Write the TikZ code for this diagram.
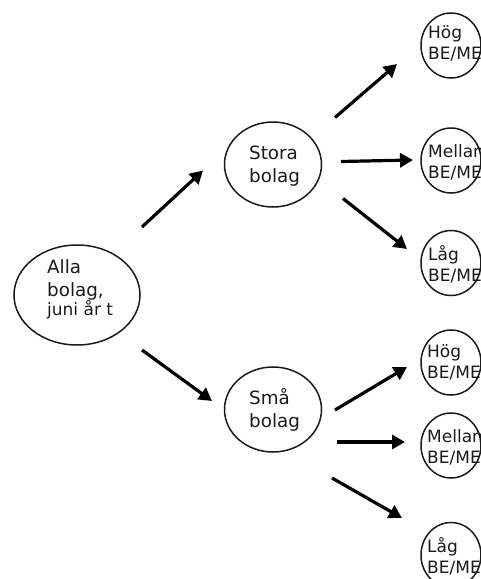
\documentclass[tikz,border=0pt]{standalone}
\usepackage{fontspec}
\setmainfont{DejaVu Sans}
\usetikzlibrary{shapes.geometric,arrows.meta}
\definecolor{ink}{HTML}{1A1A1A}
\tikzset{
  ell/.style={ellipse, draw=ink, line width=1.5pt, inner sep=0pt, outer sep=0pt},
  bigtxt/.style={inner sep=0pt, anchor=west, align=left, text=ink, font=\fontsize{18.3}{23}\selectfont},
  smalltxt/.style={inner sep=0pt, anchor=west, align=left, text=ink, font=\fontsize{17}{21}\selectfont},
  arr/.style={line width=3.2pt, -{Triangle[length=13pt,width=14pt]}}
}
\begin{document}
\begin{tikzpicture}[x=1pt,y=-1pt]
\useasboundingbox (0,0) rectangle (481,579);
% circles
\node[ell, minimum width=126pt, minimum height=100pt] (alla) at (77,295) {};
\node[ell, minimum width=97pt, minimum height=85pt] (stora) at (273,164.5) {};
\node[ell, minimum width=97pt, minimum height=85pt] (sma) at (273,409.5) {};
\node[ell, minimum width=60pt, minimum height=65pt] (hog1) at (451,45.5) {};
\node[ell, minimum width=60pt, minimum height=65pt] (mel1) at (451,160.5) {};
\node[ell, minimum width=60pt, minimum height=65pt] (lag1) at (451,263) {};
\node[ell, minimum width=60pt, minimum height=65pt] (hog2) at (451,362.5) {};
\node[ell, minimum width=60pt, minimum height=65pt] (mel2) at (451,445.5) {};
\node[ell, minimum width=60pt, minimum height=65pt] (lag2) at (451,555) {};
% texts
\node[bigtxt] (allat) at (47,289) {Alla\\bolag,\\[-4pt]{\fontsize{17}{19}\selectfont juni år t}};
\node[bigtxt] (storat) at (249,166.5) {Stora\\bolag};
\node[bigtxt] (smat) at (249,410) {Små\\bolag};
\node[smalltxt] (hog1t) at (428,43) {Hög\\BE/ME};
\node[smalltxt] (mel1t) at (428,162) {Mellan\\BE/ME};
\node[smalltxt] (lag1t) at (428,264) {Låg\\BE/ME};
\node[smalltxt] (hog2t) at (427,362) {Hög\\BE/ME};
\node[smalltxt] (mel2t) at (427,447) {Mellan\\BE/ME};
\node[smalltxt] (lag2t) at (427,556) {Låg\\BE/ME};
% arrows
\draw[arr] ([shift={(65,-68)}]alla.center) -- ([shift={(-70,6)}]stora.center);
\draw[arr] ([shift={(65,55)}]alla.center) -- ([shift={(-61,-8.5)}]sma.center);
\draw[arr] ([shift={(62,-47)}]stora.center) -- ([shift={(-54,18.5)}]hog1.center);
\draw[arr] ([shift={(68,-3)}]stora.center) -- ([shift={(-38,-0.5)}]mel1.center);
\draw[arr] ([shift={(70,34)}]stora.center) -- ([shift={(-44,-14)}]lag1.center);
\draw[arr] ([shift={(62,0.5)}]sma.center) -- ([shift={(-44,4.5)}]hog2.center);
\draw[arr] ([shift={(64,32.5)}]sma.center) -- ([shift={(-46,-3.5)}]mel2.center);
\draw[arr] ([shift={(59,68.5)}]sma.center) -- ([shift={(-49,-37)}]lag2.center);
\end{tikzpicture}
\end{document}
